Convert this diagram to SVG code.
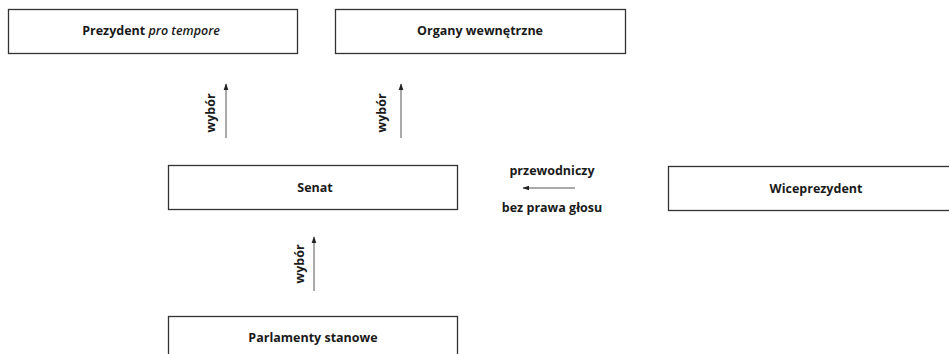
<svg xmlns="http://www.w3.org/2000/svg" width="949" height="354" viewBox="0 0 949 354">
<defs>
<marker id="ah" viewBox="0 0 10 10" refX="9" refY="5" markerWidth="7" markerHeight="7" markerUnits="userSpaceOnUse" orient="auto">
<path d="M0,1.5 L10,5 L0,8.5 z" fill="#222"/>
</marker>
<style>
.box{fill:#fff;stroke:#333;stroke-width:1.3}
.t{font-family:"Open Sans","DejaVu Sans",sans-serif;font-size:12.5px;font-weight:700;fill:#1a1a1a;text-anchor:middle}
.c{stroke:#555;stroke-width:1;fill:none;marker-end:url(#ah)}
</style>
</defs>
<rect width="949" height="354" fill="#fff"/>
<g id="prezydent">
<rect class="box" x="8.5" y="9.5" width="289" height="44"/>
<text class="t" x="151" y="35">Prezydent <tspan font-style="italic" font-weight="600">pro tempore</tspan></text>
</g>
<g id="organy">
<rect class="box" x="335.5" y="9.5" width="290" height="44"/>
<text class="t" x="480" y="35">Organy wewnętrzne</text>
</g>
<g id="senat">
<rect class="box" x="168.5" y="165.5" width="289" height="44"/>
<text class="t" x="315" y="192">Senat</text>
</g>
<g id="wiceprezydent">
<rect class="box" x="668.5" y="166.5" width="290" height="44"/>
<text class="t" x="816" y="193">Wiceprezydent</text>
</g>
<g id="parlamenty">
<rect class="box" x="168.5" y="316.5" width="289" height="60"/>
<text class="t" x="313" y="342">Parlamenty stanowe</text>
</g>
<g id="connectors">
<line class="c" x1="226" y1="138" x2="226" y2="84"/>
<line class="c" x1="401" y1="138" x2="401" y2="84"/>
<line class="c" x1="314" y1="291" x2="314" y2="237"/>
<line class="c" x1="575" y1="188" x2="523" y2="188"/>
<text class="t" transform="translate(215,113) rotate(-90)">wybór</text>
<text class="t" transform="translate(386,113) rotate(-90)">wybór</text>
<text class="t" transform="translate(304,264) rotate(-90)">wybór</text>
<text class="t" x="552" y="175">przewodniczy</text>
<text class="t" x="552" y="212">bez prawa głosu</text>
</g>
</svg>
